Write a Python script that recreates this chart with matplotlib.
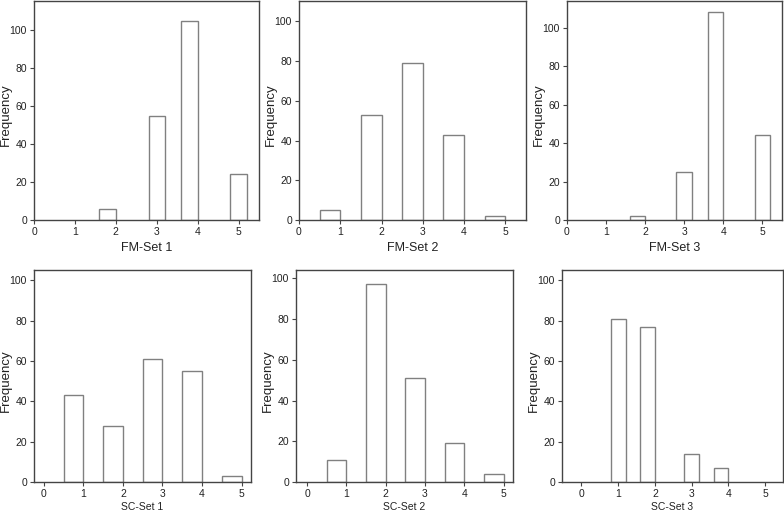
import matplotlib
matplotlib.use('Agg')
import matplotlib.pyplot as plt
import numpy as np

plt.rcParams['font.family'] = ['Liberation Sans', 'DejaVu Sans']

# histogram bins (lower edge, upper edge) and counts for each panel
fm1_lo = [1.6, 2.8, 3.6, 4.8]
fm1_hi = [2.0, 3.2, 4.0, 5.2]
fm1_n = [6, 55, 105, 24]

fm2_lo = [0.5, 1.5, 2.5, 3.5, 4.5]
fm2_hi = [1.0, 2.0, 3.0, 4.0, 5.0]
fm2_n = [5, 53, 79, 43, 2]

fm3_lo = [1.6, 2.8, 3.6, 4.8]
fm3_hi = [2.0, 3.2, 4.0, 5.2]
fm3_n = [2, 25, 108, 44]

sc1_lo = [0.5, 1.5, 2.5, 3.5, 4.5]
sc1_hi = [1.0, 2.0, 3.0, 4.0, 5.0]
sc1_n = [43, 28, 61, 55, 3]

sc2_lo = [0.5, 1.5, 2.5, 3.5, 4.5]
sc2_hi = [1.0, 2.0, 3.0, 4.0, 5.0]
sc2_n = [11, 97, 51, 19, 4]

sc3_lo = [0.8, 1.6, 2.8, 3.6]
sc3_hi = [1.2, 2.0, 3.2, 4.0]
sc3_n = [81, 77, 14, 7]

names = ['FM-Set 1', 'FM-Set 2', 'FM-Set 3', 'SC-Set 1', 'SC-Set 2', 'SC-Set 3']
ticks_x = [0, 1, 2, 3, 4, 5]
ticks_y = [0, 20, 40, 60, 80, 100]

# (lo, hi, n, pixel box l,t,r,b, xlim, ytop, xlabel size, xlabel offset px)
panels = [
    (fm1_lo, fm1_hi, fm1_n, (34, 1, 259, 220), (0, 5.5), 115.4, 9, 28),
    (fm2_lo, fm2_hi, fm2_n, (299, 1, 526, 220), (0, 5.5), 110.3, 9, 28),
    (fm3_lo, fm3_hi, fm3_n, (567, 1, 782, 220), (0, 5.5), 113.8, 9, 28),
    (sc1_lo, sc1_hi, sc1_n, (34, 270, 251, 482), (-0.25, 5.24), 105.1, 7.5, 25),
    (sc2_lo, sc2_hi, sc2_n, (296, 270, 513, 482), (-0.28, 5.24), 104.1, 7.5, 25),
    (sc3_lo, sc3_hi, sc3_n, (562, 270, 783, 482), (-0.53, 5.49), 105.1, 7.5, 25),
]

W, H = 784, 512
fig = plt.figure(figsize=(W / 100, H / 100), dpi=100)

for i, (lo, hi, n, box, xl, ytop, xfs, xoff) in enumerate(panels):
    l, t, r, b = box
    w, h = r - l, b - t
    ax = fig.add_axes([l / W, 1 - b / H, w / W, h / H])
    lo = np.array(lo)
    hi = np.array(hi)
    ax.bar(lo, n, width=hi - lo, align='edge', facecolor='white',
           edgecolor='#808080', linewidth=1.0, zorder=2)
    ax.set_xlim(*xl)
    ax.set_ylim(0, ytop)
    ax.set_xticks(ticks_x)
    ax.set_yticks(ticks_y)
    ax.tick_params(direction='out', length=3, width=0.8, labelsize=7.5,
                   color='#444444', labelcolor='#222222', pad=2)
    for s in ax.spines.values():
        s.set_color('#444444')
        s.set_linewidth(1.0)
    ax.set_ylabel('Frequency', fontsize=9.5, va='center', color='#222222')
    ax.yaxis.set_label_coords(-28 / w, 0.48)
    ax.set_xlabel(names[i], fontsize=xfs, va='center', color='#222222')
    ax.xaxis.set_label_coords(0.5, -xoff / h)

fig.savefig('out.png', dpi=100)
